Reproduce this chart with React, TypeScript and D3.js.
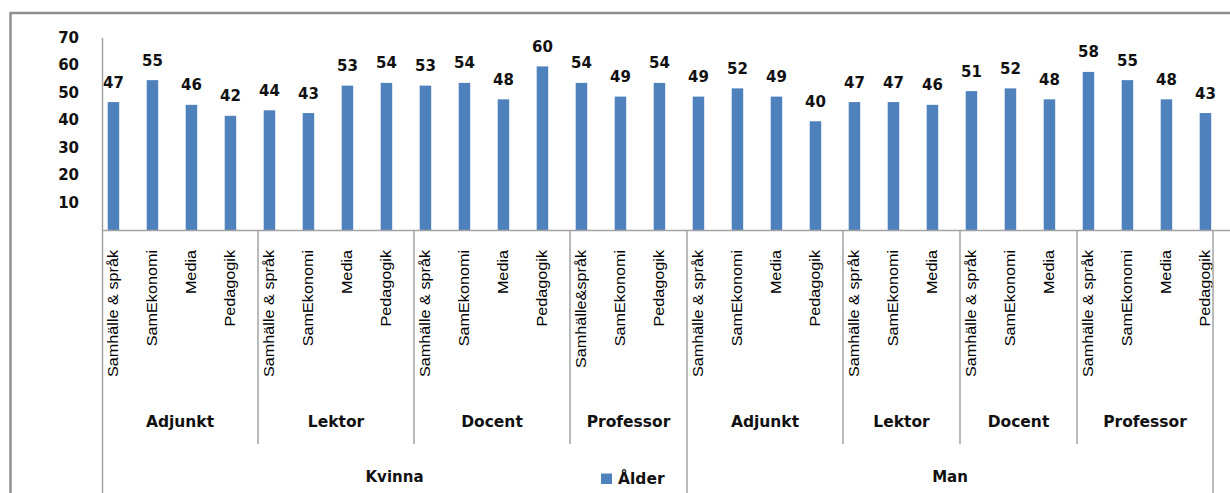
import React from "react";
import * as d3 from "d3";

// ---- data ----
const categories = [
  "Samhälle & språk", "SamEkonomi", "Media", "Pedagogik",
  "Samhälle & språk", "SamEkonomi", "Media", "Pedagogik",
  "Samhälle & språk", "SamEkonomi", "Media", "Pedagogik",
  "Samhälle&språk", "SamEkonomi", "Pedagogik",
  "Samhälle & språk", "SamEkonomi", "Media", "Pedagogik",
  "Samhälle & språk", "SamEkonomi", "Media",
  "Samhälle & språk", "SamEkonomi", "Media",
  "Samhälle & språk", "SamEkonomi", "Media", "Pedagogik",
];
const values = [
  47, 55, 46, 42,
  44, 43, 53, 54,
  53, 54, 48, 60,
  54, 49, 54,
  49, 52, 49, 40,
  47, 47, 46,
  51, 52, 48,
  58, 55, 48, 43,
];
const titleLabels = ["Adjunkt", "Lektor", "Docent", "Professor", "Adjunkt", "Lektor", "Docent", "Professor"];
const titleCounts = [4, 4, 4, 3, 4, 3, 3, 4];
const genderLabels = ["Kvinna", "Man"];
const genderCounts = [15, 14];
const yTicks = [10, 20, 30, 40, 50, 60, 70];
const seriesName = "Ålder";

// ---- layout ----
const W = 1230;
const H = 493;
const plotLeft = 102;
const step = 39;
const plotRight = 1213;
const axisY = 230.5;
const BAR = "#4F81BD";
const LINE = "#a3a3a3";
const BOLD = "'DejaVu Sans', Verdana, sans-serif";
const NARROW = "'Liberation Sans', Arial, sans-serif";

export default function App() {
  const x = d3
    .scaleBand<number>()
    .domain(d3.range(categories.length))
    .range([plotLeft, plotLeft + step * categories.length])
    .paddingInner(0)
    .paddingOuter(0);
  const y = d3.scaleLinear().domain([0, 70]).range([231, 39]);
  const edge = (k: number) => Math.min(plotLeft + k * x.step(), plotRight);

  const barOffset = 5.7;
  const barW = 11.5;

  const titleStarts = titleCounts.reduce<number[]>((acc, c, i) => {
    acc.push(i === 0 ? 0 : acc[i - 1] + titleCounts[i - 1]);
    return acc;
  }, []);
  const genderStarts = genderCounts.reduce<number[]>((acc, c, i) => {
    acc.push(i === 0 ? 0 : acc[i - 1] + genderCounts[i - 1]);
    return acc;
  }, []);

  return (
    <div style={{ position: "absolute", left: 0, top: 0 }}>
      <svg width={W} height={H} style={{ display: "block", background: "#fff" }}>
        {/* outer chart border */}
        <line x1={10.5} y1={13} x2={10.5} y2={H} stroke="#8f8f8f" strokeWidth={2.5} />
        <line x1={9.5} y1={13} x2={W} y2={13} stroke="#8f8f8f" strokeWidth={2.5} />

        {/* y tick labels */}
        {yTicks.map((t) => (
          <text
            key={t}
            x={79}
            y={y(t) + 4}
            textAnchor="end"
            fontFamily={BOLD}
            fontWeight="bold"
            fontSize={15}
            fill="#111"
          >
            {t}
          </text>
        ))}

        {/* bars */}
        {values.map((v, i) => (
          <rect
            key={i}
            x={(x(i) as number) + barOffset}
            y={y(v)}
            width={barW}
            height={y(0) - y(v)}
            fill={BAR}
          />
        ))}

        {/* data labels */}
        {values.map((v, i) => (
          <text
            key={i}
            x={(x(i) as number) + barOffset + barW / 2}
            y={y(v) - 14.5}
            textAnchor="middle"
            fontFamily={BOLD}
            fontWeight="bold"
            fontSize={15}
            fill="#111"
          >
            {v}
          </text>
        ))}

        {/* axes */}
        <line x1={plotLeft} y1={axisY} x2={W} y2={axisY} stroke={LINE} strokeWidth={1.5} />
        <line x1={plotLeft + 0.5} y1={38} x2={plotLeft + 0.5} y2={H} stroke={LINE} strokeWidth={1.5} />

        {/* category labels (rotated) */}
        {categories.map((c, i) => {
          const cx = (x(i) as number) + barOffset + barW / 2;
          return (
            <text
              key={i}
              transform={`translate(${cx + 4.8},250) rotate(-90) scale(1.08,1)`}
              textAnchor="end"
              fontFamily={NARROW}
              fontSize={15}
              fill="#000"
            >
              {c}
            </text>
          );
        })}

        {/* title group separators and labels */}
        {titleLabels.map((t, g) => {
          const a = edge(titleStarts[g]);
          const b = edge(titleStarts[g] + titleCounts[g]);
          return (
            <g key={g}>
              {g > 0 && genderStarts.indexOf(titleStarts[g]) < 0 && (
                <line x1={a} y1={axisY} x2={a} y2={444} stroke={LINE} strokeWidth={1.5} />
              )}
              <text
                x={(a + b) / 2}
                y={426.5}
                textAnchor="middle"
                fontFamily={BOLD}
                fontWeight="bold"
                fontSize={15.5}
                fill="#111"
              >
                {t}
              </text>
            </g>
          );
        })}

        {/* gender separators and labels */}
        {genderLabels.map((gl, g) => {
          const a = edge(genderStarts[g]);
          const b = edge(genderStarts[g] + genderCounts[g]);
          return (
            <g key={g}>
              <line x1={b} y1={axisY} x2={b} y2={H} stroke={LINE} strokeWidth={1.5} />
              <text
                x={(a + b) / 2}
                y={481.5}
                textAnchor="middle"
                fontFamily={BOLD}
                fontWeight="bold"
                fontSize={15}
                fill="#111"
              >
                {gl}
              </text>
            </g>
          );
        })}

        {/* legend */}
        <rect x={601} y={473.5} width={11} height={10.5} fill={BAR} />
        <text x={618} y={483.5} fontFamily={BOLD} fontWeight="bold" fontSize={15.5} fill="#111">
          {seriesName}
        </text>
      </svg>
    </div>
  );
}
